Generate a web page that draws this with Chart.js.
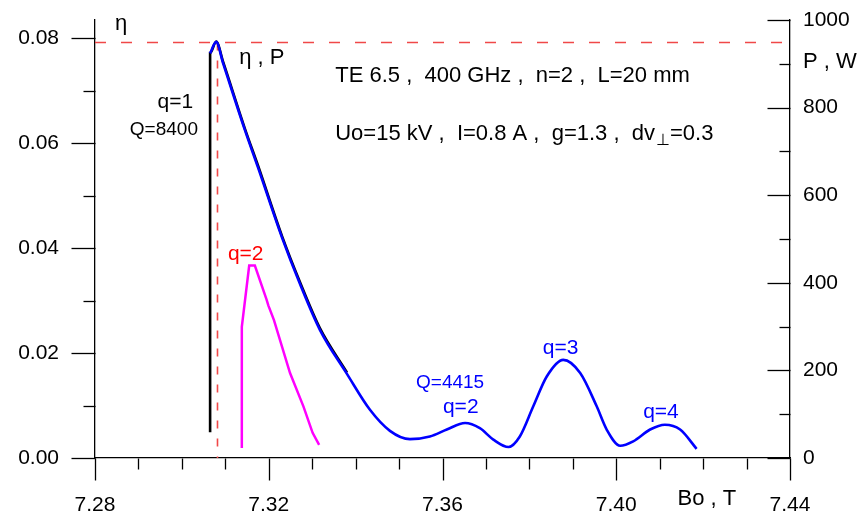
<!DOCTYPE html>
<html><head><meta charset="utf-8">
<script src="https://cdn.jsdelivr.net/npm/chart.js@4.4.0/dist/chart.umd.min.js"></script>
<style>html,body{margin:0;padding:0;background:#fff;}#wrap{width:859px;height:512px;position:relative;}</style>
</head><body><div id="wrap"><canvas id="c" width="859" height="512"></canvas></div>
<script>
const FONT = "'Liberation Sans', Arial, sans-serif";

// tick values
const xMajorTicks = [7.28, 7.32, 7.36, 7.40, 7.44];
const xMinorTicks = [7.29, 7.30, 7.31, 7.33, 7.34, 7.35, 7.37, 7.38, 7.39, 7.41, 7.42, 7.43];
const etaMajorTicks = [0, 0.02, 0.04, 0.06, 0.08];
const etaMinorTicks = [0.01, 0.03, 0.05, 0.07];
const pMajorTicks = [0, 200, 400, 600, 800, 1000];
const pMinorTicks = [100, 300, 500, 700, 900];

// efficiency, q=1 (black)
const boEtaQ1 = [7.3065, 7.3065, 7.3079, 7.3095, 7.3145, 7.3175, 7.3231, 7.3272, 7.3318, 7.3380];
const etaQ1   = [0.0049, 0.0772, 0.0794, 0.0755, 0.0628, 0.0558, 0.0422, 0.0335, 0.0247, 0.0163];

// output power (blue), W
const boPower = [7.3065, 7.3079, 7.3095, 7.3145, 7.3175, 7.3231, 7.3272, 7.3318, 7.3380, 7.3433,
                 7.3479, 7.3525, 7.3571, 7.3610, 7.3652, 7.3686, 7.3717, 7.3752, 7.3778, 7.3809,
                 7.3840, 7.3878, 7.3917, 7.3955, 7.3978, 7.4009, 7.4039, 7.4078, 7.4112, 7.4147, 7.4185];
const power   = [924, 950, 901, 749, 664, 502, 397, 292, 192, 110,
                 62, 43, 49, 65, 80, 68, 42, 25, 49, 118,
                 186, 224, 194, 118, 65, 28, 38, 65, 76, 65, 21];

// efficiency, q=2 (magenta)
const boEtaQ2 = [7.3138, 7.3138, 7.3155, 7.3168, 7.3195, 7.3199, 7.3212, 7.3249, 7.3280, 7.3301, 7.3316];
const etaQ2   = [0.0019, 0.0250, 0.0367, 0.0367, 0.0302, 0.0291, 0.0263, 0.0162, 0.0098, 0.0048, 0.0025];

// optimum marker
const etaOpt = 0.0792;
const boOpt = 7.3082;
const boRange = [7.28, 7.44];

const toPts = (xs, ys) => xs.map((x, i) => ({x: x, y: ys[i]}));

// text notes, anchored in data coordinates (x: Bo, y: eta)
const notes = [
  {t: 'η', x: 7.2846, y: 0.0816, c: '#000', s: 22, a: 'left'},
  {t: 'η , P', x: 7.3132, y: 0.0752, c: '#000', s: 22, a: 'left'},
  {t: 'q=1', x: 7.3026, y: 0.0667, c: '#000', s: 21, a: 'right'},
  {t: 'Q=8400', x: 7.3037, y: 0.0616, c: '#000', s: 19, a: 'right'},
  {t: 'TE 6.5 ,  400 GHz ,  n=2 ,  L=20 mm', x: 7.3353, y: 0.0717, c: '#000', s: 22, a: 'left'},
  {t: 'q=2', x: 7.3106, y: 0.0378, c: '#ff0000', s: 21, a: 'left'},
  {t: 'Q=4415', x: 7.3539, y: 0.0133, c: '#0000ff', s: 19, a: 'left'},
  {t: 'q=2', x: 7.3601, y: 0.0085, c: '#0000ff', s: 21, a: 'left'},
  {t: 'q=3', x: 7.3831, y: 0.0198, c: '#0000ff', s: 21, a: 'left'},
  {t: 'q=4', x: 7.4062, y: 0.0076, c: '#0000ff', s: 21, a: 'left'},
  {t: 'Bo , T', x: 7.4141, y: -0.0090, c: '#000', s: 22, a: 'left'},
  {t: 'P , W', x: 7.4430, y: 0.0743, c: '#000', s: 22, a: 'left'}
];
const paramLine = {pre: 'Uo=15 kV ,  I=0.8 A ,  g=1.3 ,  dv', sub: '⊥', post: '=0.3', x: 7.3353, y: 0.0606};

const overlay = {
  id: 'overlay',
  afterDraw(chart) {
    const ctx = chart.ctx;
    const xs = chart.scales.x, yl = chart.scales.y, yr = chart.scales.y2;
    const base = Math.round(yl.bottom) + 0.5;
    ctx.save();
    ctx.strokeStyle = '#000';
    ctx.lineWidth = 1.3;
    const seg = (x1, y1, x2, y2) => { ctx.beginPath(); ctx.moveTo(x1, y1); ctx.lineTo(x2, y2); ctx.stroke(); };
    xMajorTicks.forEach(v => { const p = Math.round(xs.getPixelForValue(v)) + 0.5; seg(p, base, p, base + 22); });
    xMinorTicks.forEach(v => { const p = Math.round(xs.getPixelForValue(v)) + 0.5; seg(p, base, p, base + 11); });
    const lx = Math.round(xs.left) + 0.5, rx = Math.round(xs.right) + 0.5;
    etaMajorTicks.forEach(v => { const p = Math.round(yl.getPixelForValue(v)) + 0.5; seg(lx - 24, p, lx, p); });
    etaMinorTicks.forEach(v => { const p = Math.round(yl.getPixelForValue(v)) + 0.5; seg(lx - 12, p, lx, p); });
    pMajorTicks.forEach(v => { const p = Math.round(yr.getPixelForValue(v)) + 0.5; seg(rx - 23, p, rx, p); });
    pMinorTicks.forEach(v => { const p = Math.round(yr.getPixelForValue(v)) + 0.5; seg(rx - 11, p, rx, p); });

    ctx.textBaseline = 'alphabetic';
    notes.forEach(n => {
      ctx.font = n.s + 'px ' + FONT;
      ctx.fillStyle = n.c;
      ctx.textAlign = n.a;
      ctx.fillText(n.t, xs.getPixelForValue(n.x), yl.getPixelForValue(n.y));
    });
    // parameter line with subscript
    ctx.textAlign = 'left';
    ctx.fillStyle = '#000';
    let px = xs.getPixelForValue(paramLine.x);
    const py = yl.getPixelForValue(paramLine.y);
    ctx.font = '22px ' + FONT;
    ctx.fillText(paramLine.pre, px, py);
    px += ctx.measureText(paramLine.pre).width + 1;
    ctx.font = '16px ' + FONT;
    ctx.fillText(paramLine.sub, px, py + 5);
    px += ctx.measureText(paramLine.sub).width;
    ctx.font = '22px ' + FONT;
    ctx.fillText(paramLine.post, px, py);
    ctx.restore();
  }
};

const xTickFont = {family: FONT, size: 21};
const yTickFont = {family: FONT, size: 21, lineHeight: 0.5};
new Chart(document.getElementById('c'), {
  type: 'line',
  data: {
    datasets: [
      {data: toPts(boPower, power), yAxisID: 'y2', borderColor: '#0000ff', borderWidth: 2.6,
       cubicInterpolationMode: 'monotone', pointRadius: 0, order: 1},
      {data: toPts(boEtaQ2, etaQ2), yAxisID: 'y', borderColor: '#ff00ff', borderWidth: 2.5,
       tension: 0, pointRadius: 0, order: 2},
      {data: toPts(boEtaQ1, etaQ1), yAxisID: 'y', borderColor: '#000000', borderWidth: 2.6,
       cubicInterpolationMode: 'monotone', pointRadius: 0, order: 3},
      {data: toPts(boRange, [etaOpt, etaOpt]), yAxisID: 'y', borderColor: '#f04848', borderWidth: 1.6,
       borderDash: [11, 15], pointRadius: 0, order: 5},
      {data: toPts([boOpt, boOpt], [etaOpt, 0]), yAxisID: 'y', borderColor: '#f04848', borderWidth: 1.6,
       borderDash: [8, 10], pointRadius: 0, order: 5}
    ]
  },
  options: {
    responsive: false, animation: false, devicePixelRatio: 1,
    layout: {padding: {top: 20, left: 0, right: 0, bottom: 0}},
    plugins: {legend: {display: false}, tooltip: {enabled: false}},
    scales: {
      x: {
        type: 'linear', min: 7.28, max: 7.44,
        afterBuildTicks: s => { s.ticks = xMajorTicks.map(v => ({value: v})); },
        afterFit: s => { s.height = 54; },
        grid: {display: true, drawOnChartArea: false, drawTicks: true, tickLength: 22, tickColor: 'rgba(0,0,0,0)'},
        border: {display: true, color: '#000', width: 1.3},
        ticks: {font: xTickFont, color: '#000', padding: 13, maxRotation: 0, autoSkip: false,
                callback: v => v.toFixed(2)}
      },
      y: {
        type: 'linear', position: 'left', min: 0, max: 0.0835,
        afterBuildTicks: s => { s.ticks = etaMajorTicks.map(v => ({value: v})); },
        afterFit: s => { s.width = 95; },
        grid: {display: true, drawOnChartArea: false, drawTicks: true, tickLength: 24, tickColor: 'rgba(0,0,0,0)'},
        border: {display: true, color: '#000', width: 1.3},
        ticks: {font: yTickFont, color: '#000', padding: 12, autoSkip: false, callback: v => v.toFixed(2)}
      },
      y2: {
        type: 'linear', position: 'right', min: 0, max: 1000,
        afterBuildTicks: s => { s.ticks = pMajorTicks.map(v => ({value: v})); },
        afterFit: s => { s.width = 69; },
        grid: {display: true, drawOnChartArea: false, drawTicks: false, tickColor: 'rgba(0,0,0,0)'},
        border: {display: true, color: '#000', width: 1.3},
        ticks: {font: yTickFont, color: '#000', padding: 13, autoSkip: false, callback: v => String(v)}
      }
    }
  },
  plugins: [overlay]
});
</script>
</body></html>
